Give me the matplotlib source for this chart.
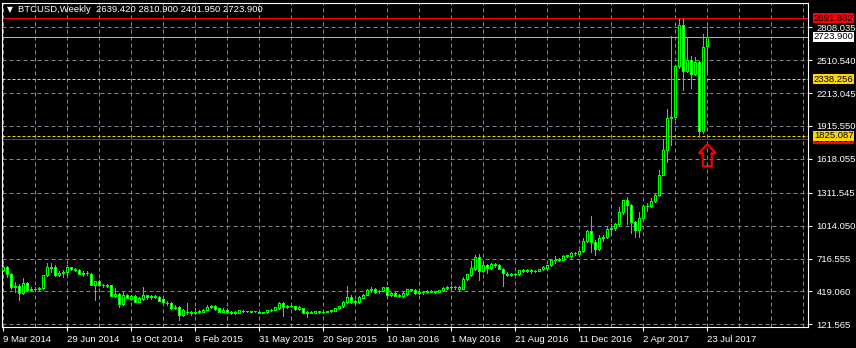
import matplotlib
matplotlib.use('Agg')
import matplotlib.pyplot as plt
from matplotlib.patches import Polygon
from matplotlib.transforms import IdentityTransform, blended_transform_factory
import numpy as np

plt.rcParams['font.family'] = ['Liberation Sans', 'DejaVu Sans']

# ---------------- data (weekly BTCUSD, bar 0 = 9 Mar 2014) ----------------
opens = [610, 640, 575, 455, 466, 401, 491, 430, 445, 440,
         450, 565, 640, 640, 566, 590, 595, 640, 625, 617,
         580, 590, 580, 480, 510, 480, 475, 475, 380, 400,
         305, 390, 350, 380, 325, 350, 385, 370, 375, 370,
         350, 318, 315, 270, 275, 210, 232, 235, 225, 235,
         235, 255, 280, 285, 265, 235, 255, 235, 225, 225,
         240, 240, 240, 240, 230, 225, 230, 250, 255, 265,
         318, 280, 290, 285, 262, 265, 228, 230, 228, 240,
         232, 236, 240, 245, 265, 285, 320, 370, 320, 320,
         360, 390, 435, 440, 420, 425, 455, 385, 405, 380,
         380, 395, 440, 435, 405, 415, 410, 418, 422, 412,
         428, 450, 462, 455, 440, 445, 530, 570, 626, 731,
         605, 656, 628, 660, 660, 626, 575, 570, 575, 575,
         610, 607, 610, 605, 608, 620, 635, 655, 700, 705,
         705, 735, 735, 765, 760, 785, 875, 965, 870, 800,
         905, 910, 985, 990, 1030, 1135, 1245, 1200, 1050, 975,
         1085, 1190, 1195, 1240, 1290, 1475, 1700, 1985, 1995, 2460,
         2830, 2415, 2510, 2390, 2490, 1870, 2639.42]
highs = [660, 650, 590, 500, 487, 542, 500, 455, 455, 455,
         570, 672, 672, 655, 600, 612, 660, 642, 630, 620,
         600, 600, 590, 515, 525, 490, 485, 480, 446, 405,
         410, 400, 390, 385, 370, 460, 390, 390, 390, 375,
         355, 330, 320, 295, 285, 260, 310, 245, 265, 250,
         260, 300, 300, 295, 270, 265, 265, 240, 245, 255,
         250, 246, 245, 245, 235, 235, 255, 260, 280, 320,
         320, 300, 300, 290, 285, 270, 240, 240, 245, 242,
         240, 245, 250, 270, 290, 330, 465, 385, 345, 375,
         395, 440, 460, 450, 430, 460, 460, 412, 410, 395,
         410, 445, 445, 440, 420, 422, 432, 430, 425, 432,
         460, 470, 470, 470, 465, 545, 580, 690, 746, 760,
         690, 670, 680, 680, 665, 630, 595, 590, 585, 615,
         625, 620, 622, 612, 625, 645, 660, 710, 740, 722,
         745, 750, 780, 780, 790, 900, 975, 1100, 880, 927,
         925, 1000, 1030, 1035, 1180, 1250, 1270, 1210, 1060, 1135,
         1200, 1220, 1265, 1300, 1515, 1800, 2070, 2730, 2470, 2880,
         2885, 2720, 2550, 2540, 2500, 2750, 2810.9]
lows = [600, 550, 445, 412, 340, 395, 425, 420, 425, 430,
        440, 555, 595, 560, 555, 550, 580, 610, 600, 575,
        555, 565, 475, 340, 470, 460, 460, 380, 370, 275,
        300, 355, 340, 320, 320, 340, 350, 350, 355, 330,
        310, 300, 262, 262, 160, 200, 215, 210, 215, 225,
        230, 250, 270, 255, 230, 230, 225, 215, 215, 220,
        235, 234, 232, 233, 222, 220, 225, 240, 250, 260,
        195, 270, 275, 255, 250, 220, 190, 225, 225, 225,
        225, 230, 235, 240, 260, 280, 310, 315, 310, 315,
        355, 385, 415, 405, 405, 420, 355, 375, 375, 365,
        370, 390, 420, 400, 400, 400, 405, 410, 405, 410,
        420, 440, 440, 445, 435, 440, 520, 560, 615, 520,
        595, 590, 620, 640, 620, 470, 560, 560, 565, 565,
        595, 595, 590, 595, 600, 615, 625, 645, 680, 695,
        700, 730, 720, 745, 755, 775, 870, 775, 745, 790,
        875, 900, 940, 975, 1020, 1120, 1030, 950, 910, 915,
        1070, 1150, 1185, 1230, 1280, 1470, 1590, 1740, 1980, 2440,
        2240, 2400, 2255, 2380, 1815, 1850, 2401.95]
closes = [640, 575, 455, 470, 401, 491, 430, 445, 440, 450,
          565, 640, 632, 566, 590, 595, 640, 625, 615, 580,
          590, 585, 475, 510, 480, 475, 468, 382, 400, 305,
          390, 360, 380, 325, 360, 385, 370, 375, 370, 335,
          320, 312, 268, 275, 210, 250, 236, 225, 235, 245,
          255, 280, 285, 260, 235, 255, 235, 225, 229, 250,
          245, 242, 237, 238, 225, 230, 250, 255, 275, 315,
          278, 290, 285, 262, 280, 228, 231, 228, 240, 232,
          236, 240, 247, 265, 285, 325, 370, 320, 330, 365,
          390, 435, 440, 415, 425, 455, 385, 405, 380, 385,
          405, 440, 430, 405, 415, 410, 425, 422, 412, 428,
          452, 462, 455, 460, 455, 530, 575, 635, 731, 605,
          655, 628, 665, 670, 625, 587, 570, 575, 580, 610,
          607, 612, 605, 608, 620, 640, 655, 700, 705, 715,
          740, 745, 770, 770, 785, 875, 965, 866, 800, 905,
          912, 985, 990, 1030, 1135, 1245, 1200, 1050, 975, 1085,
          1190, 1195, 1240, 1290, 1475, 1700, 1985, 1995, 2460, 2830,
          2415, 2510, 2390, 2490, 1870, 2630, 2723.9]

date_labels = ['9 Mar 2014', '29 Jun 2014', '19 Oct 2014', '8 Feb 2015',
               '31 May 2015', '20 Sep 2015', '10 Jan 2016', '1 May 2016',
               '21 Aug 2016', '11 Dec 2016', '2 Apr 2017', '23 Jul 2017']
label_step = 16
grid_step = 8
price_ticks = [121.565, 419.060, 716.555, 1014.050, 1311.545,
               1618.055, 1915.550, 2213.045, 2510.540, 2808.035]
red_levels = [2891.882, 1796.350]
gold_levels = [2338.256, 1825.087]
bid_price = 2723.900
symbol_title = "BTCUSD,Weekly"
arrow_bar = 176
arrow_price = 1750

# ---------------- figure ----------------
W, H = 856, 348
fig = plt.figure(figsize=(W / 100, H / 100), dpi=100, facecolor='black')
ax_l, ax_r, ax_t, ax_b = 2, 808, 2.5, 326.7
ax = fig.add_axes([ax_l / W, 1 - ax_b / H, (ax_r - ax_l) / W, (ax_b - ax_t) / H])
ax.set_facecolor('black')
bar_px = 4.0
x0 = -0.325
ax.set_xlim(x0, x0 + (ax_r - ax_l) / bar_px)
ax.set_ylim(99.9, 3032.3)

n = len(closes)
idx = np.arange(n)
grid_col = '#778899'
px = 0.72  # one pixel in points
# grid
for gx in range(0, int(x0 + (ax_r - ax_l) / bar_px) + 1, grid_step):
    ax.axvline(gx, color=grid_col, lw=px, ls=(0, (4, 3)), zorder=1)
for p in price_ticks:
    ax.axhline(p, color=grid_col, lw=px, ls=(0, (4, 3)), zorder=1)

# level lines
for lv in red_levels:
    ax.axhline(lv, color='#ff0000', lw=px, zorder=2)
for lv in gold_levels:
    ax.axhline(lv, color='#ffd700', lw=px, ls=(0, (3, 2)), zorder=2)
ax.axhline(bid_price, color='#a9b0b8', lw=px, zorder=2)

# candles
o = np.array(opens, float); h = np.array(highs, float)
l = np.array(lows, float); c = np.array(closes, float)
ax.vlines(idx, l, h, color='#00ff00', lw=0.6, zorder=3, antialiased=False)
bull = c >= o
bottoms = np.minimum(o, c)
heights = np.maximum(np.abs(c - o), 1.0)
faces = np.where(bull, 'black', 'white')
ax.bar(idx, heights, bottom=bottoms, width=0.5, color=list(faces),
       edgecolor='#00ff00', linewidth=0.6, zorder=4, antialiased=False)

# spines & ticks
for s in ax.spines.values():
    s.set_color('white')
    s.set_linewidth(0.8)
ax.yaxis.tick_right()
ax.set_yticks(price_ticks)
ax.set_yticklabels([f"{p:.3f}" for p in price_ticks])
ax.set_xticks(list(range(0, n, label_step))[:len(date_labels)])
ax.set_xticklabels(date_labels)
for lab in ax.get_xticklabels():
    lab.set_ha('left')
ax.tick_params(axis='both', colors='white', labelcolor='white', labelsize=6.8,
               length=3, width=0.8)
ax.tick_params(axis='y', pad=3)
ax.tick_params(axis='x', pad=3)

# price boxes on the right scale
btrans = blended_transform_factory(ax.transAxes, ax.transData)
def price_box(val, fc, z):
    ax.annotate(f"{val:.3f}", xy=(1, val), xycoords=btrans, xytext=(4.2, 0),
                textcoords='offset points', ha='left', va='center',
                fontsize=6.8, color='black', zorder=z, annotation_clip=False,
                bbox=dict(boxstyle='square,pad=0.05', fc=fc, ec='none'))

price_box(red_levels[1], '#ff0000', 10)
price_box(gold_levels[1], '#ffd700', 11)
price_box(gold_levels[0], '#ffd700', 11)
price_box(bid_price, 'white', 11)
price_box(red_levels[0], '#ff0000', 11)

# title
fig.text(6.5 / W, 1 - 10 / H, '\u25BC', family='DejaVu Sans', fontsize=5.5,
         color='white', va='center', ha='left')
fig.text(18 / W, 1 - 10 / H,
         f"{symbol_title}  {opens[-1]:.3f} {highs[-1]:.3f} {lows[-1]:.3f} {closes[-1]:.3f}",
         color='white', fontsize=6.8, va='center', ha='left')

# red hollow arrow marker
tip = ax.transData.transform((arrow_bar, arrow_price))
shape = np.array([[0, 0], [8.5, -9], [4.5, -9], [4.5, -22], [-4.5, -22],
                  [-4.5, -9], [-8.5, -9]])
arrow = Polygon(tip + shape, closed=True, fill=False, edgecolor='#ff0000',
                linewidth=1.5, transform=IdentityTransform(), zorder=12)
fig.add_artist(arrow)

fig.savefig('out.png', dpi=100, facecolor='black')
